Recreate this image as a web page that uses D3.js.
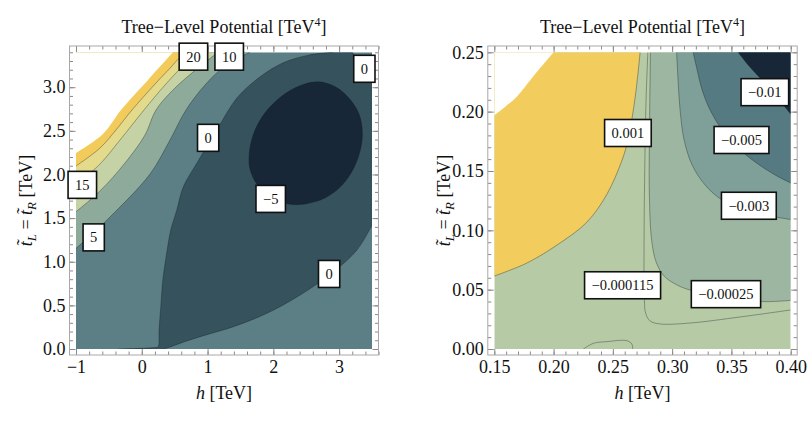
<!DOCTYPE html>
<html><head><meta charset="utf-8">
<script src="https://cdn.jsdelivr.net/npm/d3@7"></script>
<style>
body{margin:0;background:#fff}
svg{display:block}
text{font-family:"Liberation Serif","Times New Roman",serif}
</style>
</head><body>
<svg id="c" width="810" height="422"></svg>
<script>
// ---------------- LEFT PANEL DATA (h [TeV], t [TeV]) ----------------
const leftXTicks = [-1, 0, 1, 2, 3];
const leftXTickLabels = ["\u22121", "0", "1", "2", "3"];
const leftYTicks = [0, 0.5, 1, 1.5, 2, 2.5, 3];
const leftYTickLabels = ["0.0", "0.5", "1.0", "1.5", "2.0", "2.5", "3.0"];
const leftClipEdge = [[-1,2.246],[-0.59,2.464],[-0.316,2.739],[0.095,3.083],[0.475,3.4]];
const leftC20 = [[-1,2.097],[-0.635,2.303],[-0.392,2.51],[-0.149,2.739],[0.216,3.048],[0.459,3.243],[0.642,3.4]];
const leftC15 = [[-1,1.879],[-0.635,2.12],[-0.331,2.395],[0.034,2.739],[0.353,3.025],[0.627,3.243],[0.885,3.4]];
const leftC10 = [[-1,1.573],[-0.635,1.811],[-0.255,2.132],[0.049,2.452],[0.216,2.739],[0.505,2.991],[0.855,3.22],[1.159,3.4]];
const leftC5  = [[-1,1.152],[-0.483,1.513],[0.125,2.005],[0.429,2.395],[0.672,2.739],[0.961,3.025],[1.265,3.243],[1.645,3.4]];
const leftC0Upper = [[-0.36,0],[-0.2,0.004],[0,0.008],[0.15,0.014],[0.235,0.02],[0.253,0.03],[0.263,0.218],[0.289,0.485],[0.32,0.791],[0.37,1.058],[0.441,1.365],[0.533,1.594],[0.633,1.861],[0.837,2.13],[1.14,2.51],[1.45,2.88],[1.8,3.12],[2.15,3.28],[2.55,3.37],[2.9,3.4]];
const leftC0Corner = [[3.2,3.4],[3.3,3.3],[3.42,3.19],[3.5,3.14]];
const leftC0Lower = [[3.5,1.42],[3.272,1.135],[2.916,0.886],[2.409,0.619],[1.903,0.409],[1.394,0.256],[0.887,0.141],[0.6,0.07],[0.42,0.02],[0.33,0]];
const leftCm5 = [[2.664,3.062],[2.942,3.005],[3.17,2.856],[3.307,2.683],[3.353,2.477],[3.323,2.282],[3.231,2.087],[3.049,1.881],[2.79,1.732],[2.486,1.663],[2.227,1.663],[1.983,1.743],[1.77,1.869],[1.648,2.053],[1.633,2.225],[1.694,2.454],[1.831,2.661],[2.044,2.844],[2.333,2.993]];
const leftLabelText = ["20", "10", "0", "0", "15", "5", "\u22125", "0"];
const leftLabelH = [0.785, 1.329, 3.384, 1.009, -0.904, -0.731, 1.96, 2.848];
const leftLabelT = [3.35, 3.35, 3.211, 2.42, 1.881, 1.279, 1.72, 0.86];

// ---------------- RIGHT PANEL DATA ----------------
const rightXTicks = [0.15, 0.2, 0.25, 0.3, 0.35, 0.4];
const rightXTickLabels = ["0.15", "0.20", "0.25", "0.30", "0.35", "0.40"];
const rightYTicks = [0, 0.05, 0.1, 0.15, 0.2, 0.25];
const rightYTickLabels = ["0.00", "0.05", "0.10", "0.15", "0.20", "0.25"];
const rightClipEdge = [[0.15,0.197],[0.159,0.204],[0.169,0.2126],[0.184,0.231],[0.2,0.25]];
const rightC001 = [[0.15,0.0615],[0.1776,0.0725],[0.2054,0.0893],[0.2282,0.107],[0.2451,0.1306],[0.2578,0.1593],[0.2628,0.1761],[0.2662,0.1946],[0.2696,0.2182],[0.273,0.25]];
const rightCm000115 = [[0.2795,0.25],[0.278,0.2098],[0.2772,0.1719],[0.2763,0.0876],[0.2766,0.0413],[0.2776,0.0303],[0.2814,0.0236],[0.2899,0.0211],[0.3152,0.0219],[0.3574,0.027],[0.4,0.0329]];
const rightCm00025 = [[0.2817,0.25],[0.281,0.193],[0.2808,0.1298],[0.2827,0.0918],[0.2865,0.0733],[0.2932,0.0615],[0.3042,0.0539],[0.3152,0.0497],[0.3447,0.0447],[0.376,0.04],[0.4,0.041]];
const rightCm003 = [[0.3038,0.25],[0.305,0.2267],[0.3067,0.2014],[0.3101,0.1761],[0.3169,0.155],[0.3278,0.1382],[0.3422,0.1255],[0.3616,0.1171],[0.3827,0.1121],[0.4,0.1091]];
const rightCm005 = [[0.3177,0.25],[0.3211,0.2351],[0.3253,0.2182],[0.332,0.2014],[0.3422,0.1846],[0.3557,0.1694],[0.37,0.1576],[0.3869,0.1466],[0.4,0.1399]];
const rightCm01 = [[0.3557,0.25],[0.3641,0.2393],[0.3742,0.2283],[0.3869,0.214],[0.4,0.198]];
const rightBump = [[0.2251,0],[0.2336,0.0048],[0.2449,0.0062],[0.2618,0.007],[0.266,0.0042],[0.2668,0]];
const rightLabelText = ["0.001", "\u22120.01", "\u22120.005", "\u22120.003", "\u22120.000115", "\u22120.00025"];
const rightLabelH = [0.2627, 0.3782, 0.3585, 0.3647, 0.2582, 0.3454];
const rightLabelT = [0.182, 0.2164, 0.1761, 0.1207, 0.0537, 0.0462];

// ---------------- DRAWING ----------------
const svg = d3.select("#c");
const defs = svg.append("defs");
const FONT = '"Liberation Serif","Times New Roman",serif';
const LINE = "rgba(20,30,30,0.45)";

function pathFrom(parts, x, y) {
  let d = "";
  parts.forEach((p, i) => {
    const gen = d3.line().x(q => x(q[0])).y(q => y(q[1]))
      .curve(p.smooth ? d3.curveCatmullRom.alpha(0.5) : d3.curveLinear);
    let s = gen(p.pts);
    if (i > 0) s = "L" + s.slice(1);
    d += s;
  });
  return d + "Z";
}

function makePanel(id, xDom, xRange) {
  const x = d3.scaleLinear().domain(xDom).range(xRange);
  const y = d3.scaleLinear().domain(id === "L" ? [0, 3.4] : [0, 0.25]).range([349, 52.3]);
  const fx = [xRange[0] - 6.5, xRange[1] + 6.5], fy = [46, 355];
  defs.append("clipPath").attr("id", "clip" + id).append("rect")
    .attr("x", xRange[0]).attr("y", 52.3).attr("width", xRange[1] - xRange[0]).attr("height", 349 - 52.3);
  const g = svg.append("g");
  const plot = g.append("g").attr("clip-path", `url(#clip${id})`);
  return {x, y, fx, fy, g, plot};
}

function fillRegion(P, parts, color) {
  P.plot.append("path").attr("d", pathFrom(parts, P.x, P.y)).attr("fill", color).attr("stroke", "none");
}
function strokeLine(P, pts, closed) {
  const gen = d3.line().x(q => P.x(q[0])).y(q => P.y(q[1]))
    .curve(closed ? d3.curveCatmullRomClosed.alpha(0.5) : d3.curveCatmullRom.alpha(0.5));
  P.plot.append("path").attr("d", gen(pts)).attr("fill", "none").attr("stroke", LINE).attr("stroke-width", 0.8);
}

function axesAndFrame(P, xt, xl, yt, yl, xMinor, yMinor) {
  const {x, y, fx, fy, g} = P;
  const ax = g.append("g");
  const style = sel => {
    sel.select(".domain").remove();
    sel.attr("font-family", FONT).attr("font-size", 18);
    sel.selectAll("line").attr("stroke", "#8a8a8a");
    sel.selectAll("text").attr("fill", "#111");
  };
  const fmtX = d => xl[xt.indexOf(d)], fmtY = d => yl[yt.indexOf(d)];
  ax.append("g").attr("transform", `translate(0,${fy[1]})`)
    .call(d3.axisBottom(x).tickValues(xt).tickFormat(fmtX).tickSizeInner(-6).tickSizeOuter(0).tickPadding(5)).call(style);
  ax.append("g").attr("transform", `translate(0,${fy[1]})`)
    .call(d3.axisBottom(x).tickValues(xMinor).tickFormat("").tickSizeInner(-3.5).tickSizeOuter(0)).call(style);
  ax.append("g").attr("transform", `translate(0,${fy[0]})`)
    .call(d3.axisTop(x).tickValues(xt).tickFormat("").tickSizeInner(-6).tickSizeOuter(0)).call(style);
  ax.append("g").attr("transform", `translate(0,${fy[0]})`)
    .call(d3.axisTop(x).tickValues(xMinor).tickFormat("").tickSizeInner(-3.5).tickSizeOuter(0)).call(style);
  ax.append("g").attr("transform", `translate(${fx[0]},0)`)
    .call(d3.axisLeft(y).tickValues(yt).tickFormat(fmtY).tickSizeInner(-6).tickSizeOuter(0).tickPadding(4)).call(style);
  ax.append("g").attr("transform", `translate(${fx[0]},0)`)
    .call(d3.axisLeft(y).tickValues(yMinor).tickFormat("").tickSizeInner(-3.5).tickSizeOuter(0)).call(style);
  ax.append("g").attr("transform", `translate(${fx[1]},0)`)
    .call(d3.axisRight(y).tickValues(yt).tickFormat("").tickSizeInner(-6).tickSizeOuter(0)).call(style);
  ax.append("g").attr("transform", `translate(${fx[1]},0)`)
    .call(d3.axisRight(y).tickValues(yMinor).tickFormat("").tickSizeInner(-3.5).tickSizeOuter(0)).call(style);
  g.append("rect").attr("x", fx[0]).attr("y", fy[0]).attr("width", fx[1] - fx[0]).attr("height", fy[1] - fy[0])
    .attr("fill", "none").attr("stroke", "#a8a8a8").attr("stroke-width", 1);

  const cx = (x.range()[0] + x.range()[1]) / 2;
  // title
  const t = g.append("text").attr("x", cx).attr("y", 33).attr("text-anchor", "middle").attr("font-size", 18).attr("fill", "#111");
  t.append("tspan").text("Tree\u2212Level Potential [TeV");
  t.append("tspan").attr("font-size", 12).attr("dy", -7).text("4");
  t.append("tspan").attr("dy", 7).text("]");
  // x label
  const xlab = g.append("text").attr("x", cx).attr("y", 399).attr("text-anchor", "middle").attr("font-size", 18).attr("fill", "#111");
  xlab.append("tspan").attr("font-style", "italic").text("h");
  xlab.append("tspan").text(" [TeV]");
  // y label
  const ylx = fx[0] - 38 - (P.ylOffset || 0);
  const yl2 = g.append("text").attr("transform", `translate(${ylx},200.5) rotate(-90)`)
    .attr("text-anchor", "middle").attr("font-size", 18).attr("fill", "#111");
  yl2.append("tspan").attr("font-style", "italic").text("t\u0303");
  yl2.append("tspan").attr("font-style", "italic").attr("font-size", 13).attr("dy", 4).text("L");
  yl2.append("tspan").attr("dy", -4).text(" = ");
  yl2.append("tspan").attr("font-style", "italic").text("t\u0303");
  yl2.append("tspan").attr("font-style", "italic").attr("font-size", 13).attr("dy", 4).text("R");
  yl2.append("tspan").attr("dy", -4).text(" [TeV]");
}

function addLabels(P, texts, hs, ts) {
  texts.forEach((txt, i) => {
    const px = P.x(hs[i]), py = P.y(ts[i]);
    const lg = P.g.append("g");
    const r = lg.append("rect");
    const t = lg.append("text").attr("x", px).attr("y", py + 5).attr("text-anchor", "middle")
      .attr("font-size", 14.5).attr("fill", "#111").text(txt);
    const w = t.node().getComputedTextLength() + 14, h = 27;
    r.attr("x", px - w / 2).attr("y", py - h / 2).attr("width", w).attr("height", h)
      .attr("fill", "#fff").attr("stroke", "#111").attr("stroke-width", 1.6);
  });
}

// ===== LEFT =====
const L = makePanel("L", [-1, 3.5], [76, 372]);
L.plot.append("rect").attr("x", 76).attr("y", 52.3).attr("width", 296).attr("height", 296.7).attr("fill", "#5b7f85");
fillRegion(L, [{pts: leftC0Upper, smooth: true}, {pts: leftC0Corner, smooth: true}, {pts: leftC0Lower, smooth: true}], "#35525d");
L.plot.append("path").attr("d", d3.line().x(q => L.x(q[0])).y(q => L.y(q[1])).curve(d3.curveCatmullRomClosed.alpha(0.5))(leftCm5)).attr("fill", "#172737");
fillRegion(L, [{pts: leftC5, smooth: true}, {pts: [[-1, 3.4]]}], "#8eaa9a");
fillRegion(L, [{pts: leftC10, smooth: true}, {pts: [[-1, 3.4]]}], "#c5d2a5");
fillRegion(L, [{pts: leftC15, smooth: true}, {pts: [[-1, 3.4]]}], "#e4da8c");
fillRegion(L, [{pts: leftC20, smooth: true}, {pts: [[-1, 3.4]]}], "#f2cb5b");
fillRegion(L, [{pts: leftClipEdge, smooth: true}, {pts: [[-1, 3.4]]}], "#ffffff");
[leftC5, leftC10, leftC15, leftC20, leftC0Upper, leftC0Corner, leftC0Lower].forEach(p => strokeLine(L, p, false));
strokeLine(L, leftCm5, true);
axesAndFrame(L, leftXTicks, leftXTickLabels, leftYTicks, leftYTickLabels,
  d3.range(-1, 3.61, 0.2).map(v => +v.toFixed(2)), d3.range(0, 3.41, 0.1).map(v => +v.toFixed(2)));
addLabels(L, leftLabelText, leftLabelH, leftLabelT);

// ===== RIGHT =====
const R = makePanel("R", [0.15, 0.4], [494.3, 790.7]);
R.plot.append("rect").attr("x", 494.3).attr("y", 52.3).attr("width", 296.4).attr("height", 296.7).attr("fill", "#b6caa6");
fillRegion(R, [{pts: rightC001, smooth: true}, {pts: [[0.15, 0.25]]}], "#f2cc5c");
fillRegion(R, [{pts: rightClipEdge, smooth: true}, {pts: [[0.15, 0.25]]}], "#ffffff");
fillRegion(R, [{pts: rightCm00025, smooth: true}, {pts: [[0.4, 0.25]]}], "#9db6a1");
fillRegion(R, [{pts: rightCm003, smooth: true}, {pts: [[0.4, 0.25]]}], "#7fa098");
fillRegion(R, [{pts: rightCm005, smooth: true}, {pts: [[0.4, 0.25]]}], "#567a81");
fillRegion(R, [{pts: rightCm01, smooth: true}, {pts: [[0.4, 0.25]]}], "#172737");
[rightC001, rightCm000115, rightCm00025, rightCm003, rightCm005, rightCm01, rightBump].forEach(p => strokeLine(R, p, false));
axesAndFrame(R, rightXTicks, rightXTickLabels, rightYTicks, rightYTickLabels,
  d3.range(0.15, 0.4051, 0.01).map(v => +v.toFixed(3)), d3.range(0, 0.2551, 0.01).map(v => +v.toFixed(3)));
addLabels(R, rightLabelText, rightLabelH, rightLabelT);
</script>
</body></html>
